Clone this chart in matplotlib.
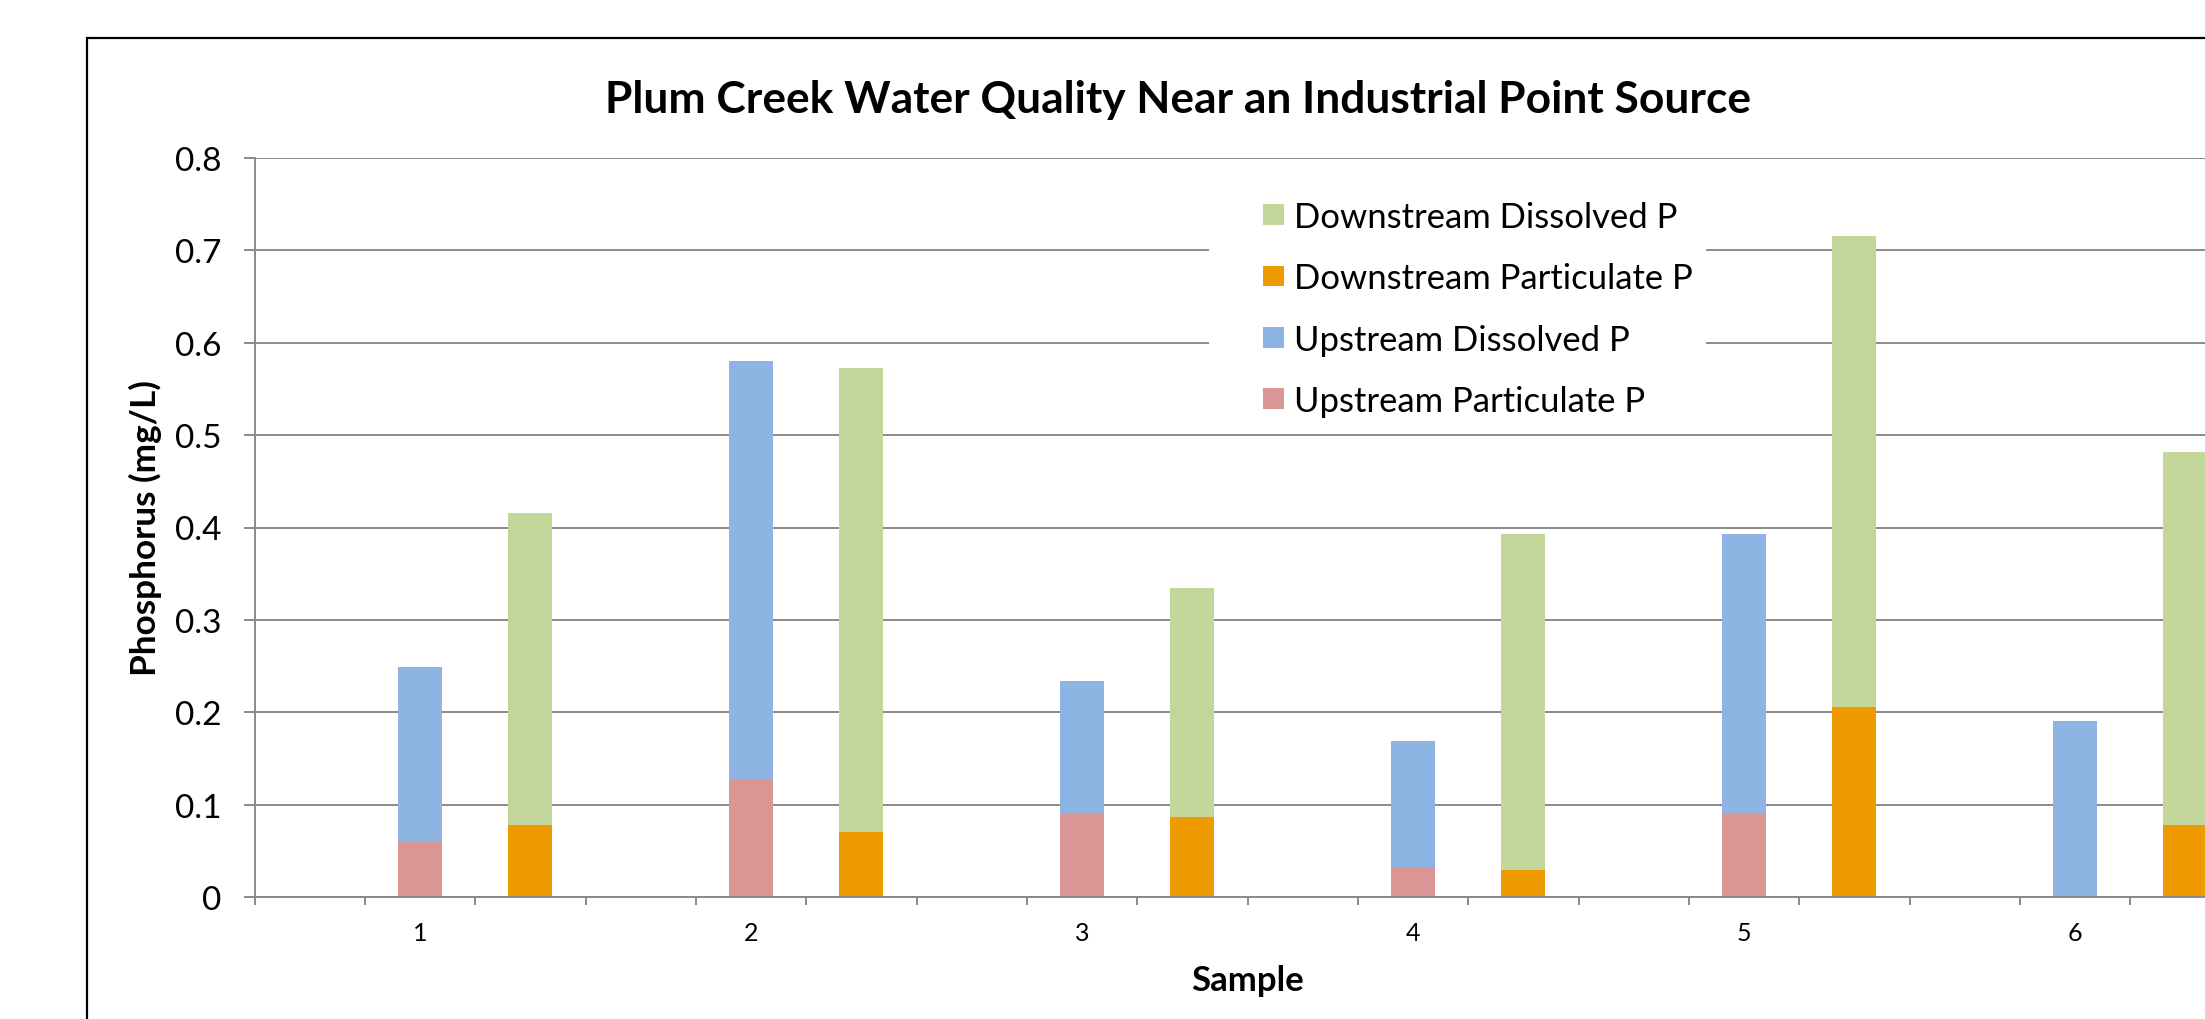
import numpy as np
import matplotlib
matplotlib.use('Agg')
import matplotlib.pyplot as plt
from matplotlib.patches import Rectangle
from matplotlib.container import BarContainer
from matplotlib.legend_handler import HandlerPatch

plt.rcParams['font.family'] = ['Lato', 'DejaVu Sans']

# values (mg/L)
samples = ['1', '2', '3', '4', '5', '6']
up_particulate = [0.059, 0.128, 0.090, 0.032, 0.090, 0.0]
up_dissolved = [0.190, 0.452, 0.144, 0.137, 0.303, 0.190]
down_particulate = [0.078, 0.070, 0.087, 0.029, 0.206, 0.078]
down_dissolved = [0.338, 0.503, 0.248, 0.364, 0.510, 0.404]

yticks = [0, 0.1, 0.2, 0.3, 0.4, 0.5, 0.6, 0.7, 0.8]
ytick_labels = ['0', '0.1', '0.2', '0.3', '0.4', '0.5', '0.6', '0.7', '0.8']

W, H = 2205, 1020
grid_col = '#8a8a8a'

fig = plt.figure(figsize=(W / 100, H / 100), dpi=100)
# plot area runs off the right edge of the picture, like the original crop
ax = fig.add_axes([254.5 / W, 1 - 898 / H, 1986 / W, 739 / H])

n = len(samples)
x_up = np.arange(n) * 3 + 1.5
x_down = np.arange(n) * 3 + 2.5
bw = 0.4

b_up_p = ax.bar(x_up, up_particulate, bw, color='#D99694', lw=0, label='Upstream Particulate P')
b_up_d = ax.bar(x_up, up_dissolved, bw, bottom=up_particulate, color='#8EB4E3', lw=0,
                label='Upstream Dissolved P')
b_dn_p = ax.bar(x_down, down_particulate, bw, color='#EE9A00', lw=0, label='Downstream Particulate P')
b_dn_d = ax.bar(x_down, down_dissolved, bw, bottom=down_particulate, color='#C4D79B', lw=0,
                label='Downstream Dissolved P')

ax.set_xlim(0, 3 * n)
ax.set_ylim(0, 0.8)
ax.set_yticks(yticks)
ax.set_yticklabels(ytick_labels)
ax.yaxis.grid(True, color=grid_col, lw=1.4)
ax.set_axisbelow(True)

# category boundaries get the tick marks, sample numbers sit under the upstream bar
ax.set_xticks(np.arange(3 * n + 1))
ax.set_xticklabels([])
ax.set_xticks(x_up, minor=True)
ax.set_xticklabels(samples, minor=True)

ax.tick_params(axis='y', direction='out', length=8, width=1.4, color=grid_col,
               labelsize=24, pad=16)
ax.tick_params(axis='x', which='major', direction='out', length=6, width=1.4, color=grid_col)
ax.tick_params(axis='x', which='minor', length=0, labelsize=18, pad=17.5)

for s in ['top', 'right']:
    ax.spines[s].set_visible(False)
for s in ['left', 'bottom']:
    ax.spines[s].set_color(grid_col)
    ax.spines[s].set_linewidth(1.4)

ax.set_xlabel('Sample', fontsize=25, fontweight='bold', va='baseline')
ax.xaxis.set_label_coords(0.5, (898 - 991) / 739)
ax.set_ylabel('Phosphorus (mg/L)', fontsize=25.3, fontweight='bold', va='center')
ax.yaxis.set_label_coords((145 - 254.5) / 1986, 0.5)

fig.text(1178 / W, 1 - 112.5 / H, 'Plum Creek Water Quality Near an Industrial Point Source',
         ha='center', va='baseline', fontsize=31.9, fontweight='bold')

leg_fs = 24.9
fs_px = leg_fs * 100 / 72
leg = ax.legend(handles=[b_dn_d, b_dn_p, b_up_d, b_up_p], loc='upper left',
                bbox_to_anchor=(1209 / W, 1 - 188 / H), bbox_transform=fig.transFigure,
                fontsize=leg_fs, frameon=True, fancybox=False, framealpha=1,
                edgecolor='none', facecolor='white', borderaxespad=0, borderpad=0.4,
                handlelength=(40 + 21) / fs_px, handleheight=0.557, handletextpad=10 / fs_px,
                labelspacing=0.85,
                handler_map={BarContainer: HandlerPatch(xpad=40 / fs_px,
                                                        update_func=lambda h, o: h.update_from(o[0]))})

# outer chart border, cut off at right and bottom like the reference
fig.add_artist(Rectangle((87 / W, -0.1), 2.0, 1.1 - 39 / H, transform=fig.transFigure,
                         fill=False, ec='black', lw=1.6))

fig.savefig('out.png', dpi=100)
